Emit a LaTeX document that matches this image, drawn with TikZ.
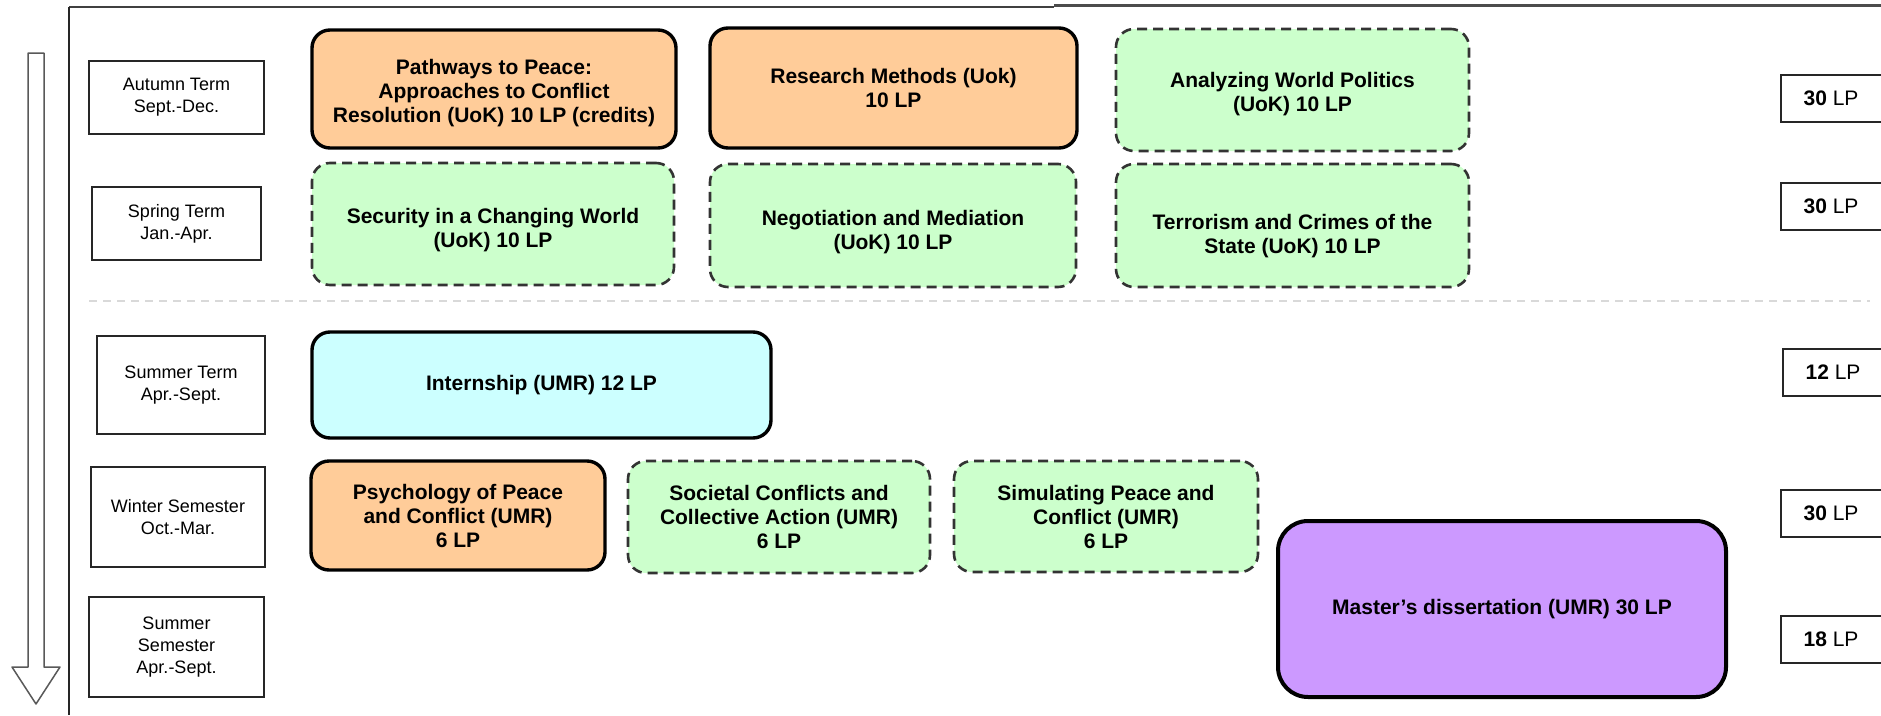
\documentclass[tikz,border=0pt]{standalone}
\usepackage{fontspec}
\setmainfont{Liberation Sans}
\definecolor{corefill}{RGB}{255,204,153}
\definecolor{electfill}{RGB}{204,255,204}
\definecolor{internfill}{RGB}{204,255,255}
\definecolor{thesisfill}{RGB}{204,153,255}
\tikzset{
  course/.style={rounded corners=18pt, align=center, inner sep=0pt,
    font=\bfseries\fontsize{21}{24}\selectfont},
  corebox/.style={course, fill=corefill, draw=black, line width=3.4pt},
  electbox/.style={course, fill=electfill, draw=black!80, line width=2.6pt, dash pattern=on 10pt off 6pt},
  internbox/.style={course, fill=internfill, draw=black, line width=3.4pt},
  thesisbox/.style={course, rounded corners=30pt, fill=thesisfill, draw=black, line width=4pt},
  termbox/.style={draw=black!85, line width=2pt, align=center, inner sep=0pt,
    font=\fontsize{18}{22}\selectfont},
  lpbox/.style={draw=black!85, line width=2pt, inner sep=0pt, minimum width=120pt,
    minimum height=47pt, font=\fontsize{21}{24}\selectfont},
}
\newcommand{\lptext}[2]{\hspace*{-20pt}\textbf{#1} #2}
\newcommand{\lowered}[2]{\raisebox{-#1}[0pt][0pt]{\begin{tabular}{@{}c@{}}#2\end{tabular}}}
\begin{document}
\begin{tikzpicture}[x=1pt,y=-1pt]
\clip (0,0) rectangle (1881,715);
\fill[white] (0,0) rectangle (1881,715);

% frame lines
\draw[black!75, line width=2pt] (69,7) -- (1054,7);
\draw[black!70, line width=2.5pt] (1054,5.5) -- (1881,5.5);
\draw[black!85, line width=2pt] (69,7) -- (69,715);

% time arrow
\draw[black!65, line width=1.5pt, fill=white, line join=round]
  (28,53) -- (44,53) -- (44,667) -- (60,667) -- (36,704) -- (12,667) -- (28,667) -- cycle;

% separator
\draw[black!15, line width=2pt, dash pattern=on 8pt off 6pt] (89,301) -- (1870,301);

% term labels
\node[termbox, minimum width=175pt, minimum height=73pt] (autumn) at (176.5,97.5) {Autumn Term\\Sept.-Dec.};
\node[termbox, minimum width=169pt, minimum height=73pt] (spring) at (176.5,223.5) {Spring Term\\Jan.-Apr.};
\node[termbox, minimum width=168pt, minimum height=98pt] (summerterm) at (181,385) {Summer Term\\Apr.-Sept.};
\node[termbox, minimum width=174pt, minimum height=100pt] (winter) at (178,517) {Winter Semester\\Oct.-Mar.};
\node[termbox, minimum width=175pt, minimum height=100pt] (summersem) at (176.5,647) {Summer\\Semester\\Apr.-Sept.};

% courses
\node[corebox, minimum width=364pt, minimum height=118pt] (pathways) at (494,89)
  {\lowered{10pt}{Pathways to Peace:\\Approaches to Conflict\\Resolution (UoK) 10 LP (credits)}};
\node[corebox, minimum width=367pt, minimum height=120pt] (research) at (893.5,88)
  {Research Methods (Uok)\\10 LP};
\node[electbox, minimum width=353pt, minimum height=122pt] (analyzing) at (1292.5,90)
  {\lowered{10pt}{Analyzing World Politics\\(UoK) 10 LP}};
\node[electbox, minimum width=362pt, minimum height=122pt] (security) at (493,224)
  {\lowered{12pt}{Security in a Changing World\\(UoK) 10 LP}};
\node[electbox, minimum width=366pt, minimum height=123pt] (negotiation) at (893,225.5)
  {\lowered{12pt}{Negotiation and Mediation\\(UoK) 10 LP}};
\node[electbox, minimum width=353pt, minimum height=123pt] (terrorism) at (1292.5,225.5)
  {\lowered{16pt}{Terrorism and Crimes of the\\State (UoK) 10 LP}};
\node[internbox, minimum width=459pt, minimum height=106pt] (internship) at (541.5,385)
  {Internship (UMR) 12 LP};
\node[corebox, minimum width=294pt, minimum height=109pt] (psychology) at (458,515.5)
  {Psychology of Peace\\and Conflict (UMR)\\6 LP};
\node[electbox, minimum width=302pt, minimum height=112pt] (societal) at (779,517)
  {Societal Conflicts and\\Collective Action (UMR)\\6 LP};
\node[electbox, minimum width=304pt, minimum height=111pt] (simulating) at (1106,516.5)
  {Simulating Peace and\\Conflict (UMR)\\6 LP};
\node[thesisbox, minimum width=448pt, minimum height=176pt] (thesis) at (1502,609)
  {Master’s dissertation (UMR) 30 LP};

% credit totals
\node[lpbox] (lpautumn) at (1841,98.5) {\lptext{30}{LP}};
\node[lpbox] (lpspring) at (1841,206.5) {\lptext{30}{LP}};
\node[lpbox] (lpsummerterm) at (1843,372.5) {\lptext{12}{LP}};
\node[lpbox] (lpwinter) at (1841,513) {\lptext{30}{LP}};
\node[lpbox] (lpsummersem) at (1841,639.5) {\lptext{18}{LP}};
\end{tikzpicture}
\end{document}
